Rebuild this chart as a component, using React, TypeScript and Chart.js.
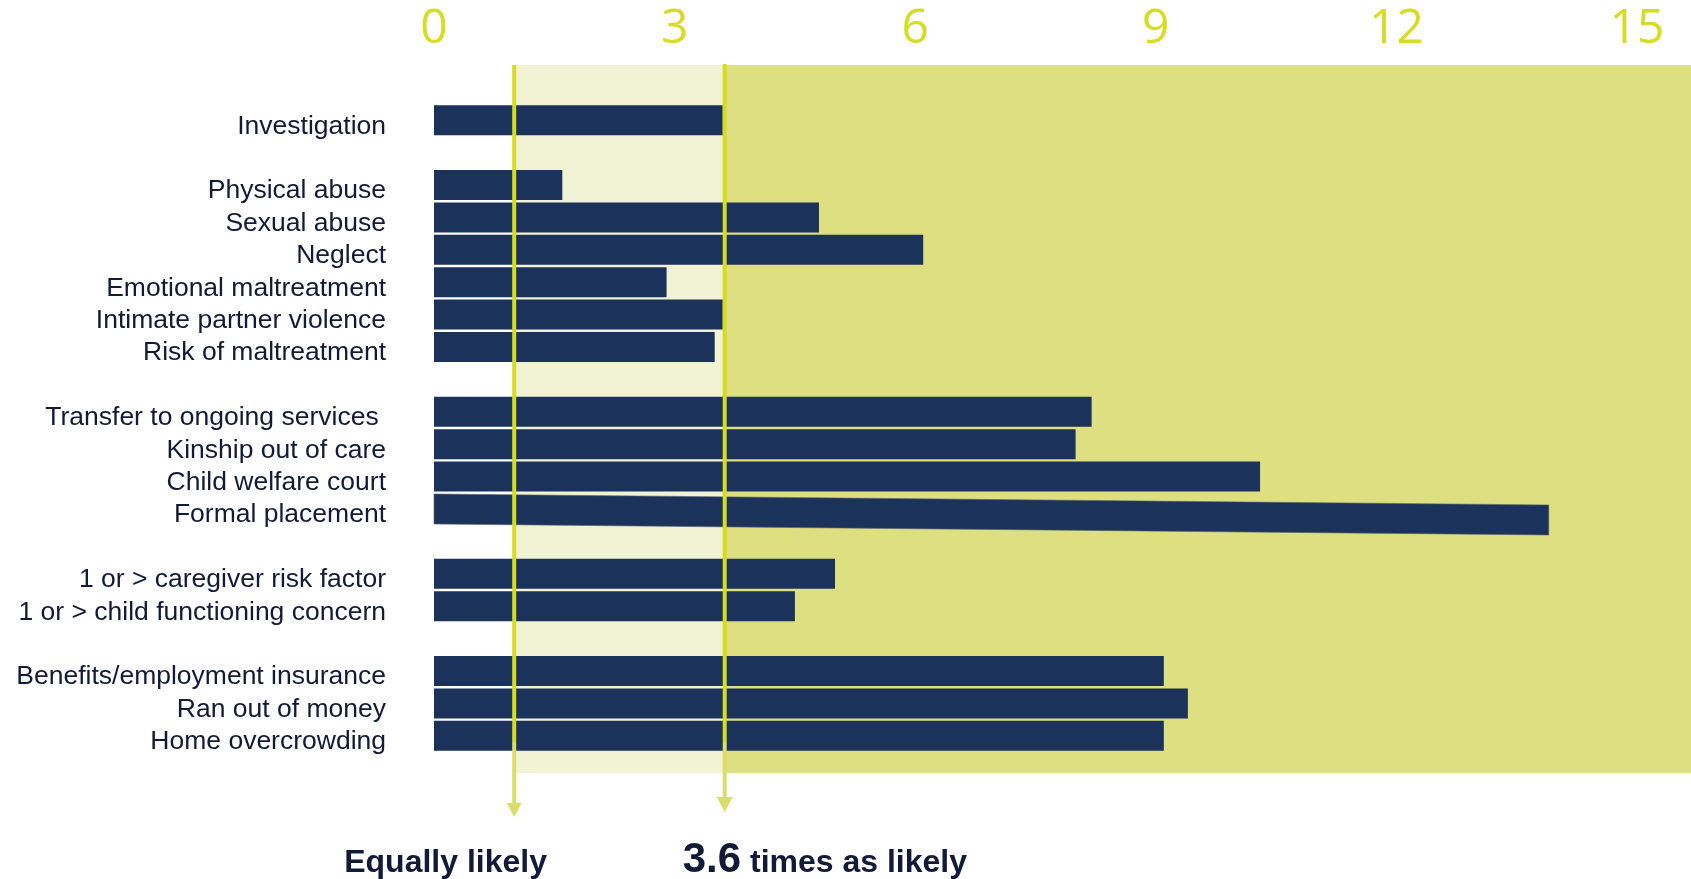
import React, { useEffect, useRef } from "react";
import { Chart, registerables } from "chart.js";

Chart.register(...registerables);

// Grouped categories; an empty row is left between groups.
const investigationLabels = ["Investigation"];
const investigationValues = [3.6];

const maltreatmentLabels = [
  "Physical abuse",
  "Sexual abuse",
  "Neglect",
  "Emotional maltreatment",
  "Intimate partner violence",
  "Risk of maltreatment",
];
const maltreatmentValues = [1.6, 4.8, 6.1, 2.9, 3.6, 3.5];

const serviceLabels = [
  "Transfer to ongoing services ",
  "Kinship out of care",
  "Child welfare court",
  "Formal placement",
];
const serviceValues = [8.2, 8.0, 10.3, 13.9];

const riskLabels = ["1 or > caregiver risk factor", "1 or > child functioning concern"];
const riskValues = [5.0, 4.5];

const householdLabels = ["Benefits/employment insurance", "Ran out of money", "Home overcrowding"];
const householdValues = [9.1, 9.4, 9.1];

const xTicks = [0, 3, 6, 9, 12, 15];

// Reference ratios marked with arrows
const equalRatio = 1;
const keyRatio = 3.6;
const equalCaption = "Equally likely";
const keyCaption = " times as likely";

// The one bar that is drawn slanted
const slantedLabel = "Formal placement";

const groups: [string[], number[]][] = [
  [investigationLabels, investigationValues],
  [maltreatmentLabels, maltreatmentValues],
  [serviceLabels, serviceValues],
  [riskLabels, riskValues],
  [householdLabels, householdValues],
];

const labels: string[] = [];
const values: (number | null)[] = [];
groups.forEach(([ls, vs], gi) => {
  if (gi > 0) {
    labels.push("");
    values.push(null);
  }
  ls.forEach((l, i) => {
    labels.push(l);
    values.push(vs[i]);
  });
});
const slantedIndex = labels.indexOf(slantedLabel);

const BAR = "#1b325b";
const LIGHT_BAND = "#f2f3d4";
const DARK_BAND = "#dedf80";
const LINE = "#d6dc22";
const LINE_SOFT = "#dadd6a";
const TICK = "#d6dc24";
const TEXT = "#111a36";
const SANS = "'Liberation Sans', Arial, sans-serif";

const bandsPlugin = {
  id: "bands",
  beforeDatasetsDraw(chart: any) {
    const { ctx, chartArea, scales } = chart;
    const x = scales.x;
    const top = chartArea.top - 39;
    const bottom = chartArea.bottom + 21;
    const x1 = x.getPixelForValue(equalRatio);
    const x2 = x.getPixelForValue(keyRatio);
    ctx.save();
    ctx.fillStyle = LIGHT_BAND;
    ctx.fillRect(x1, top, x2 - x1, bottom - top);
    ctx.fillStyle = DARK_BAND;
    ctx.fillRect(x2, top, chart.width - x2, bottom - top);
    ctx.restore();
  },
  afterDatasetsDraw(chart: any) {
    const { ctx, chartArea, scales } = chart;
    const x = scales.x;
    ctx.save();

    // slanted bar
    const el = chart.getDatasetMeta(0).data[slantedIndex];
    if (el) {
      const p = el.getProps(["x", "y", "base", "height"], true);
      const h = p.height / 2;
      const skew = 11;
      ctx.fillStyle = BAR;
      ctx.strokeStyle = "rgba(90,100,110,0.6)";
      ctx.lineWidth = 1;
      ctx.beginPath();
      ctx.moveTo(p.base, p.y - h);
      ctx.lineTo(p.x, p.y - h + skew);
      ctx.lineTo(p.x, p.y + h + skew);
      ctx.lineTo(p.base, p.y + h);
      ctx.closePath();
      ctx.fill();
      ctx.stroke();
    }

    // reference lines with arrowheads
    const drawArrow = (xv: number, top: number, base: number, tip: number, half: number) => {
      const split = chartArea.bottom - 10;
      ctx.lineWidth = 4;
      ctx.strokeStyle = LINE;
      ctx.beginPath();
      ctx.moveTo(xv, top);
      ctx.lineTo(xv, split);
      ctx.stroke();
      ctx.strokeStyle = LINE_SOFT;
      ctx.beginPath();
      ctx.moveTo(xv, split);
      ctx.lineTo(xv, base);
      ctx.stroke();
      ctx.fillStyle = LINE_SOFT;
      ctx.beginPath();
      ctx.moveTo(xv - half, base);
      ctx.lineTo(xv + half, base);
      ctx.lineTo(xv, tip);
      ctx.closePath();
      ctx.fill();
    };
    const x1 = x.getPixelForValue(equalRatio);
    const x2 = x.getPixelForValue(keyRatio) + 2;
    drawArrow(x1, chartArea.top - 39, chartArea.bottom + 51, chartArea.bottom + 65, 7.5);
    drawArrow(x2, chartArea.top - 40, chartArea.bottom + 45, chartArea.bottom + 60, 8);

    // captions under the arrows
    const baseline = chartArea.bottom + 120;
    ctx.fillStyle = TEXT;
    ctx.textBaseline = "alphabetic";
    ctx.textAlign = "left";
    ctx.font = `bold 32px ${SANS}`;
    ctx.fillText(equalCaption, x1 - 170, baseline);
    const num = String(keyRatio);
    const nx = x2 - 42;
    ctx.font = `bold 42px ${SANS}`;
    ctx.fillText(num, nx, baseline);
    const w = ctx.measureText(num).width;
    ctx.font = `bold 32px ${SANS}`;
    ctx.fillText(keyCaption, nx + w, baseline);

    ctx.restore();
  },
};

export default function App() {
  const ref = useRef<HTMLCanvasElement | null>(null);

  useEffect(() => {
    if (!ref.current) return;
    const chart = new Chart(ref.current, {
      type: "bar",
      data: {
        labels,
        datasets: [
          {
            data: values,
            backgroundColor: (c: any) => (c.dataIndex === slantedIndex ? "rgba(0,0,0,0)" : BAR),
            borderWidth: 0,
            barPercentage: 0.926,
            categoryPercentage: 1,
          },
        ],
      },
      options: {
        indexAxis: "y",
        animation: false,
        responsive: true,
        maintainAspectRatio: false,
        layout: { padding: { top: 0, left: 0, right: 54, bottom: 127 } },
        plugins: { legend: { display: false }, tooltip: { enabled: false } },
        scales: {
          x: {
            position: "top",
            min: 0,
            max: 15,
            afterFit: (s: any) => {
              s.height = 104;
              s.paddingLeft = 0;
              s.paddingRight = 0;
            },
            afterBuildTicks: (s: any) => {
              s.ticks = xTicks.map((v) => ({ value: v }));
            },
            grid: { display: false, drawTicks: false },
            border: { display: false },
            ticks: {
              padding: 46,
              color: TICK,
              font: { family: "'Liberation Sans Narrow', 'Open Sans', sans-serif", size: 48 },
            },
          },
          y: {
            afterFit: (s: any) => {
              s.width = 434;
            },
            grid: { display: false, drawTicks: false },
            border: { display: false },
            ticks: {
              padding: 48,
              labelOffset: 6,
              autoSkip: false,
              color: TEXT,
              font: { family: SANS, size: 26.5 },
            },
          },
        },
      },
      plugins: [bandsPlugin],
    });
    return () => chart.destroy();
  }, []);

  return (
    <div style={{ position: "fixed", left: 0, top: 0, width: 1691, height: 879, background: "#fff" }}>
      <canvas ref={ref} />
    </div>
  );
}
